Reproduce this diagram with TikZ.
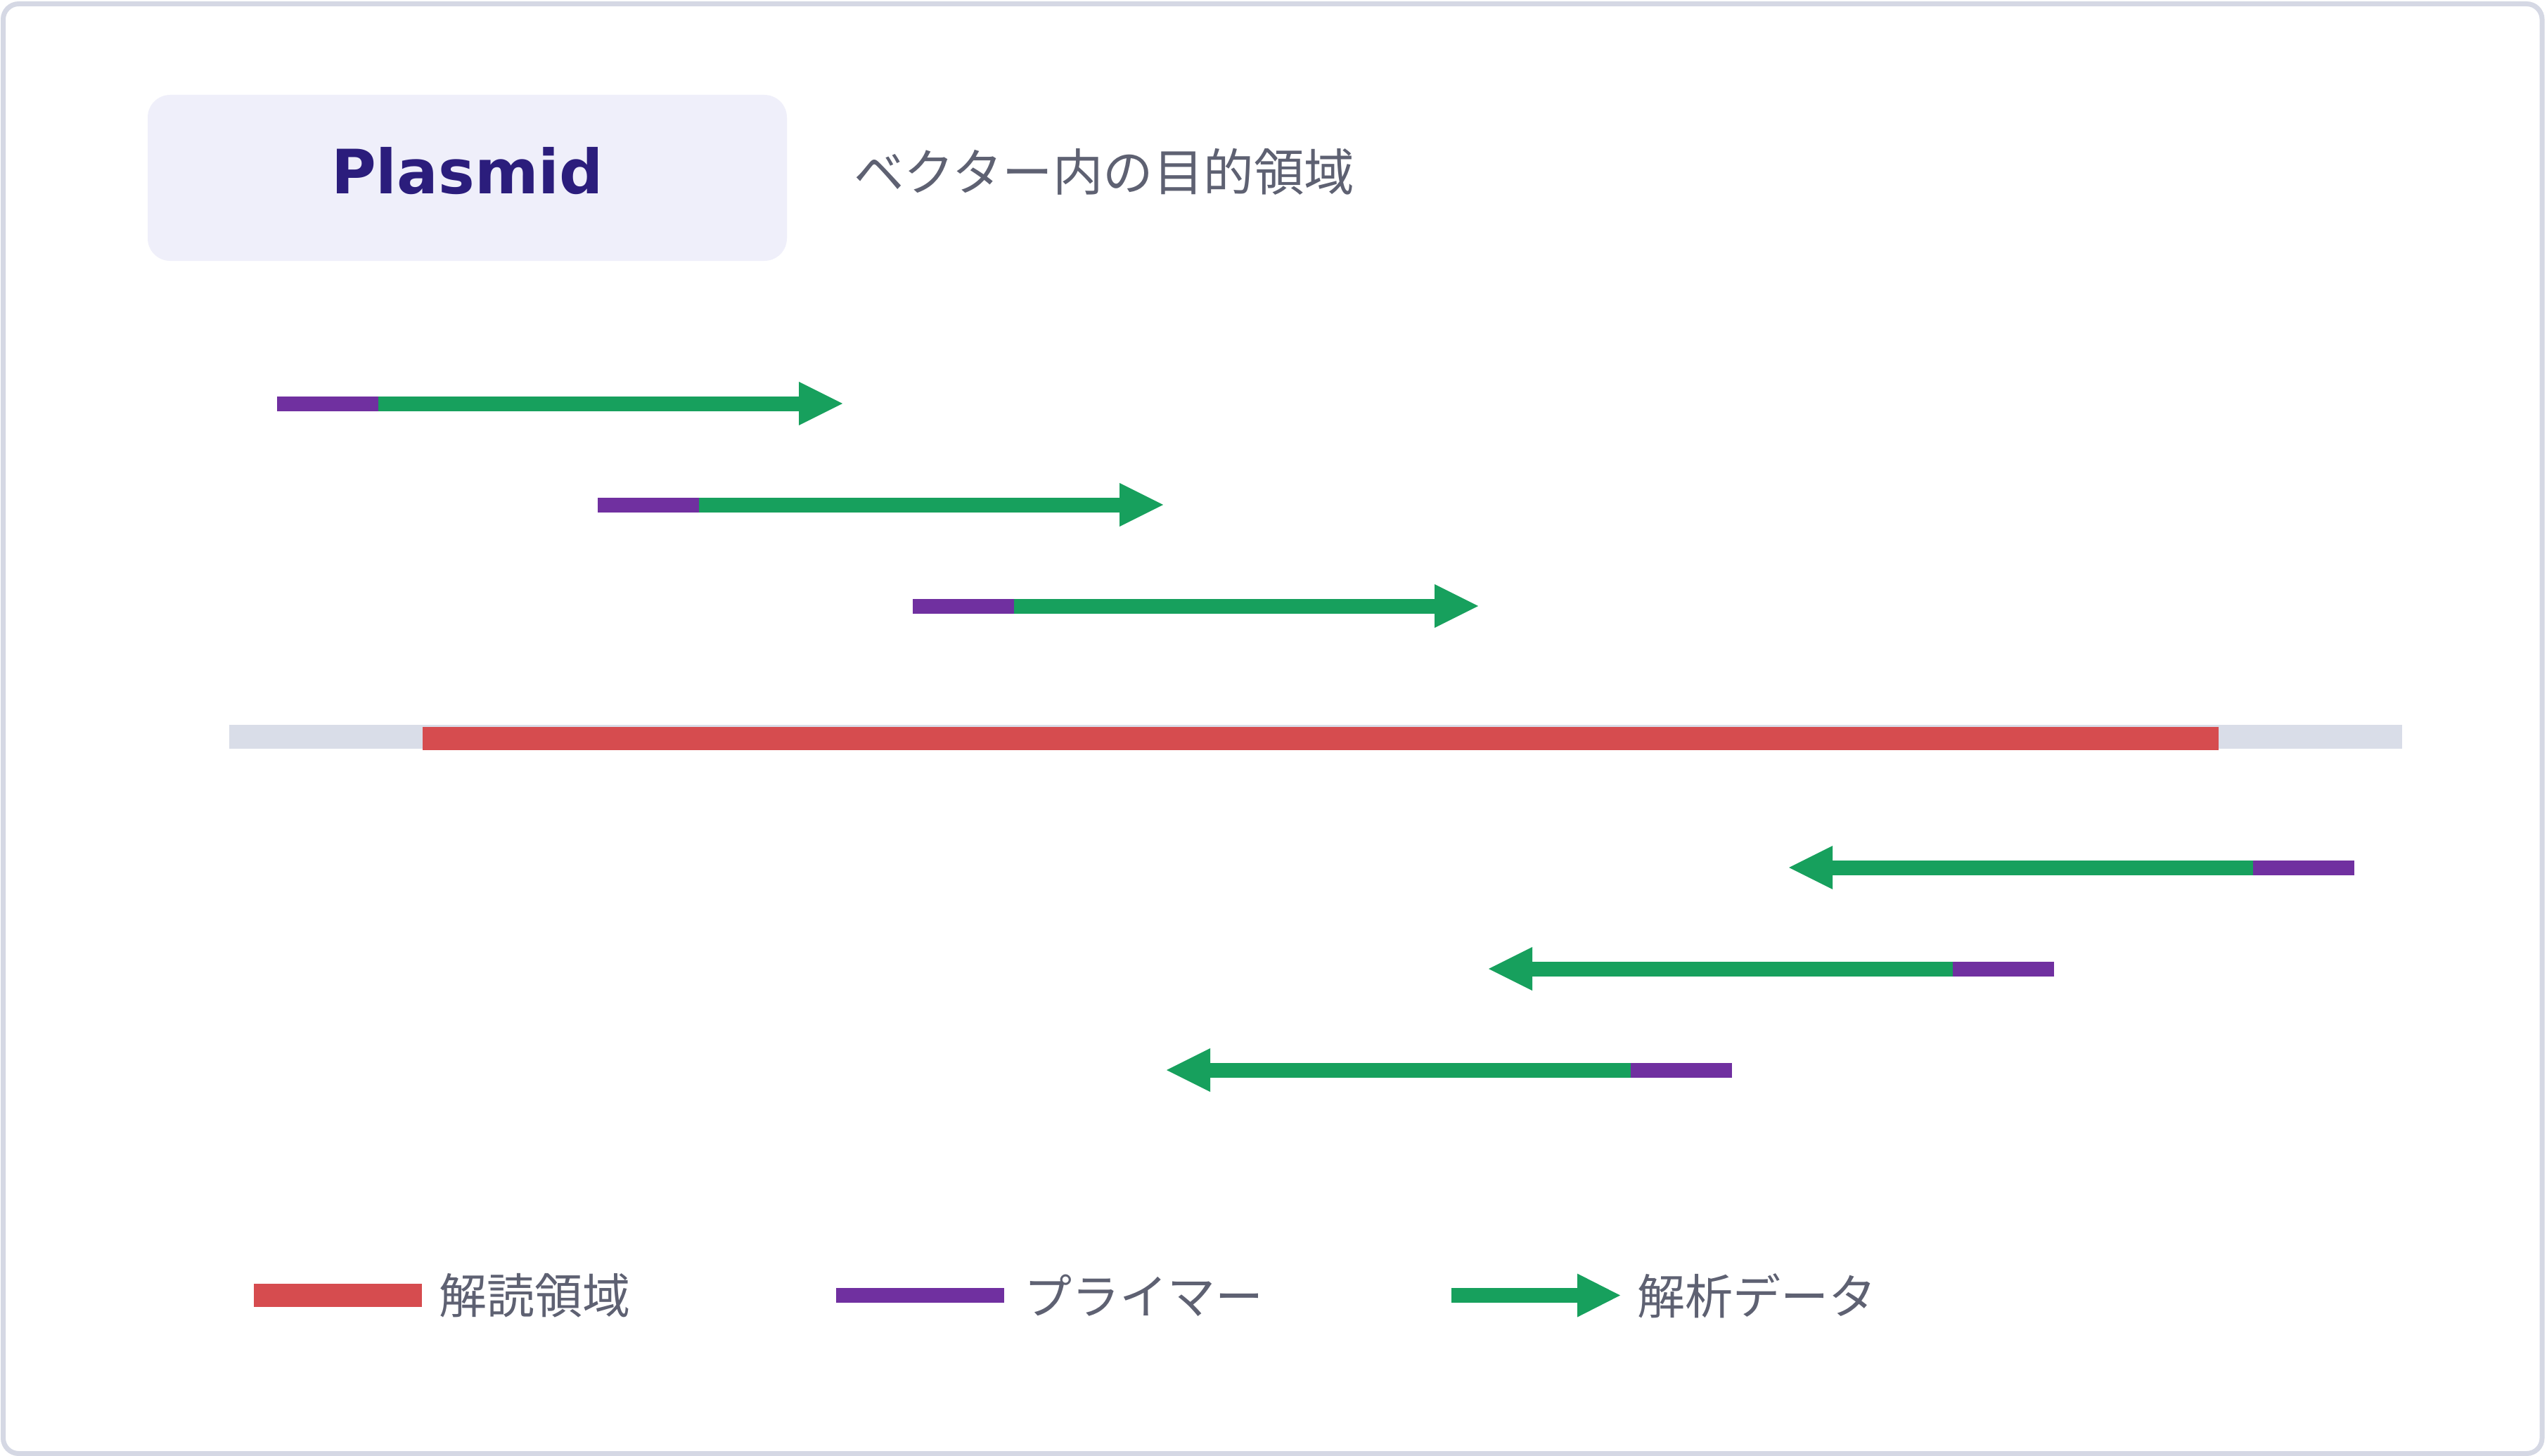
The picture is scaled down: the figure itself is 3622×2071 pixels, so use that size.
\documentclass[tikz,border=0pt]{standalone}
\usepackage{fontspec}
\newfontfamily\jpfont{Noto Sans CJK JP}
\newfontfamily\dejavu{DejaVu Sans}
\usetikzlibrary{calc}
\definecolor{framec}{HTML}{D5D8E4}
\definecolor{tboxc}{HTML}{EFEFFA}
\definecolor{ttlc}{HTML}{2B1D7C}
\definecolor{txtc}{HTML}{5E6172}
\definecolor{vecc}{HTML}{D9DDE8}
\definecolor{redc}{HTML}{D64C4F}
\definecolor{purc}{HTML}{7030A0}
\definecolor{grnc}{HTML}{17A05D}
\tikzset{
  primerline/.style={draw=purc, line width=21pt},
  readline/.style={draw=grnc, line width=21pt},
  headfill/.style={fill=grnc},
  jptext/.style={font=\jpfont\fontsize{68pt}{82pt}\selectfont, text=txtc, inner sep=0pt},
}
\newcommand\myfwd[3]{%
  \coordinate (#1s) at (#2,#3);
  \coordinate (#1p) at (#2+144,#3);
  \coordinate (#1b) at (#2+742,#3);
  \coordinate (#1t) at (#2+804,#3);
  \draw[primerline] (#1s) -- (#1p);
  \draw[readline] (#1p) -- ($(#1b)+(1,0)$);
  \fill[headfill] (#1t) -- ($(#1b)+(0,-31)$) -- ($(#1b)+(0,31)$) -- cycle;
}
\newcommand\myrev[3]{%
  \coordinate (#1t) at (#2,#3);
  \coordinate (#1b) at (#2+62,#3);
  \coordinate (#1p) at (#2+660,#3);
  \coordinate (#1s) at (#2+804,#3);
  \draw[primerline] (#1s) -- (#1p);
  \draw[readline] (#1p) -- ($(#1b)+(-1,0)$);
  \fill[headfill] (#1t) -- ($(#1b)+(0,-31)$) -- ($(#1b)+(0,31)$) -- cycle;
}
\begin{document}
\begin{tikzpicture}[x=1pt,y=-1pt]
\useasboundingbox (0,0) rectangle (3622,2071);
\fill[white] (0,0) rectangle (3622,2071);
% frame
\draw[framec, line width=7pt, rounded corners=22pt] (4.5,5.5) rectangle (3615,2067.5);
% title box
\fill[tboxc, rounded corners=32pt] (210,135) rectangle (1119,371);
\coordinate (tboxc) at (664.5,253);
\node[anchor=base, inner sep=0pt, text=ttlc, font=\dejavu\bfseries\fontsize{87pt}{100pt}\selectfont] (ttl) at (664.5,276) {Plasmid};
\node[jptext, font=\jpfont\fontsize{71.5pt}{86pt}\selectfont, anchor=west] (sub) at (1214,244) {ベクター内の目的領域};
% vector and read region
\coordinate (v1) at (326,1048);
\coordinate (v2) at (3416,1048);
\draw[vecc, line width=34pt] (v1) -- (v2);
\coordinate (r1) at (601,1050.5);
\coordinate (r2) at (3155,1050.5);
\draw[redc, line width=33pt] (r1) -- (r2);
% forward reads
\myfwd{fa}{394}{574}
\myfwd{fb}{850}{718}
\myfwd{fc}{1298}{862}
% reverse reads
\myrev{ra}{2544}{1234}
\myrev{rb}{2117}{1378}
\myrev{rc}{1659}{1522}
% legend
\coordinate (l1a) at (361,1842.5);
\coordinate (l1b) at (600,1842.5);
\draw[redc, line width=33pt] (l1a) -- (l1b);
\node[jptext, anchor=west] (lt1) at (624,1843) {解読領域};
\coordinate (l2a) at (1189,1842.5);
\coordinate (l2b) at (1428,1842.5);
\draw[primerline] (l2a) -- (l2b);
\node[jptext, anchor=west] (lt2) at (1456,1843) {プライマー};
\coordinate (l3a) at (2064,1842.5);
\coordinate (l3b) at (2243,1842.5);
\coordinate (l3t) at (2304,1842.5);
\draw[readline] (l3a) -- ($(l3b)+(1,0)$);
\fill[headfill] (l3t) -- ($(l3b)+(0,-31)$) -- ($(l3b)+(0,31)$) -- cycle;
\node[jptext, anchor=west] (lt3) at (2328,1843) {解析データ};
\end{tikzpicture}
\end{document}
